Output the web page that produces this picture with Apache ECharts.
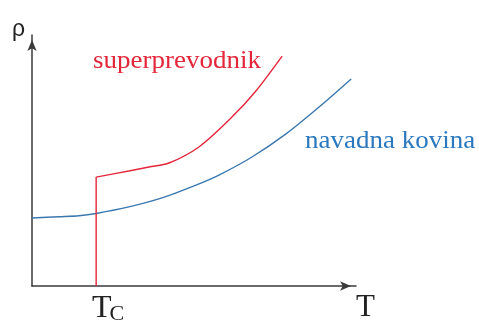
<!DOCTYPE html>
<html>
<head>
<meta charset="utf-8">
<script src="https://cdn.jsdelivr.net/npm/echarts@6/dist/echarts.min.js"></script>
<style>
  html, body { margin: 0; padding: 0; background: #fff; }
  #chart { width: 479px; height: 320px; }
</style>
</head>
<body>
<div id="chart"></div>
<script>
// Resistivity vs. temperature: ordinary metal and superconductor (arbitrary units)
const Tc = 1.98;

// ordinary metal (navadna kovina)
const metalT   = [0, 0.83, 1.45, 1.98, 2.99, 4.01, 5.06, 5.77, 6.79, 7.84, 8.86, 9.85];
const metalRho = [2.71, 2.76, 2.80, 2.89, 3.15, 3.51, 4.02, 4.42, 5.14, 6.06, 7.13, 8.25];

// superconductor (superprevodnik) above Tc
const superT   = [1.98, 2.99, 3.61, 4.23, 5.15, 6.17, 6.91, 7.72];
const superRho = [4.34, 4.58, 4.74, 4.90, 5.54, 6.73, 7.77, 9.16];

// resistivity drops to zero at Tc
const dropT   = [Tc, Tc];
const dropRho = [0, 4.34];

const zip = (a, b) => a.map((v, i) => [v, b[i]]);

const RED = '#e3263a';
const BLUE = '#3a78b0';
const AXIS = '#3a3a3a';
const SERIF = '"Liberation Serif", "DejaVu Serif", serif';

const chart = echarts.init(document.getElementById('chart'), null, { renderer: 'canvas' });
chart.setOption({
  animation: false,
  grid: { left: 32, top: 35, width: 324, bottom: 34, containLabel: false, outerBoundsMode: 'none' },
  xAxis: {
    type: 'value', min: 0, max: 10,
    axisLine: { show: true, symbol: ['none', 'arrow'], symbolSize: [7, 11], symbolOffset: [0, -5],
      lineStyle: { color: AXIS, width: 1.5 } },
    axisTick: { show: false },
    splitLine: { show: false },
    axisLabel: {
      customValues: [Tc],
      formatter: () => '{t|T}{c|C}',
      margin: 7,
      rich: {
        t: { fontFamily: SERIF, fontSize: 32, color: '#222', verticalAlign: 'bottom', padding: [0, 0, 0, 24] },
        c: { fontFamily: SERIF, fontSize: 22, color: '#222', verticalAlign: 'bottom', padding: [0, 0, 0, -2] }
      }
    },
    name: 'T', nameLocation: 'end', nameGap: 0,
    nameTextStyle: { fontFamily: SERIF, fontSize: 31, color: '#222', align: 'left', verticalAlign: 'top', padding: [6, 0, 0, 0] }
  },
  yAxis: {
    type: 'value', min: 0, max: 10,
    axisLine: { show: true, symbol: ['none', 'arrow'], symbolSize: [7, 11], symbolOffset: [0, -5],
      lineStyle: { color: AXIS, width: 1.5 } },
    axisTick: { show: false },
    splitLine: { show: false },
    axisLabel: { show: false },
    name: 'ρ', nameLocation: 'end', nameGap: 17,
    nameTextStyle: { fontFamily: '"Liberation Sans", sans-serif', fontSize: 23, color: '#222',
      align: 'right', verticalAlign: 'top', padding: [0, 7, 0, 0] }
  },
  series: [
    {
      type: 'line', data: zip(metalT, metalRho), smooth: 0.3, symbol: 'none',
      lineStyle: { color: BLUE, width: 1.4 }
    },
    {
      type: 'line', data: zip(superT, superRho), smooth: 0.3, symbol: 'none',
      lineStyle: { color: RED, width: 1.4 }
    },
    {
      type: 'line', data: zip(dropT, dropRho), symbol: 'none',
      lineStyle: { color: RED, width: 1.4 }
    }
  ],
  graphic: [
    { type: 'text', left: 93, top: 49, scaleX: 1.08,
      style: { text: 'superprevodnik', fontFamily: SERIF, fontSize: 25, fill: RED } },
    { type: 'text', left: 305, top: 129, scaleX: 1.08,
      style: { text: 'navadna kovina', fontFamily: SERIF, fontSize: 25, fill: '#2a78bd' } }
  ]
});
</script>
</body>
</html>
